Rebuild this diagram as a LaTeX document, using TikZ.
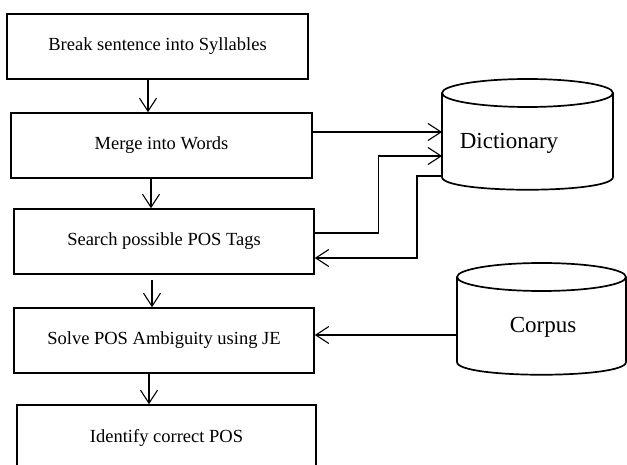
\documentclass[tikz,border=0pt]{standalone}
\usepackage{fontspec}
\setmainfont{Liberation Serif}
\usetikzlibrary{arrows.meta}
\begin{document}
\begin{tikzpicture}[x=1pt,y=-1pt,
  procbox/.style={draw,line width=1.6pt,minimum height=65pt,inner sep=0pt,font=\fontsize{18.5}{20}\selectfont},
  arr/.style={line width=1.1pt,-{Straight Barb[length=13pt,width=17pt,line width=1.1pt]}},
  dbshape/.style={line width=1.7pt},
  dblabel/.style={font=\fontsize{23}{25}\selectfont,inner sep=0pt}]
\clip (0,0) rectangle (627,465);
\fill[white] (0,0) rectangle (627,465);
% process boxes
\node[procbox,minimum width=301pt] (b1) at (157.5,46.5) {Break sentence into Syllables};
\node[procbox,minimum width=301pt] (b2) at (161.5,145.5) {Merge into Words};
\node[procbox,minimum width=300pt] (b3) at (164,241.5) {Search possible POS Tags};
\node[procbox,minimum width=300pt] (b4) at (164,340.5) {Solve POS Ambiguity using JE};
\node[procbox,minimum width=299pt] (b5) at (166.5,437.5) {Identify correct POS};
% Dictionary cylinder
\draw[dbshape] (527.5,93) ellipse [x radius=85.5, y radius=14];
\draw[dbshape] (442,93) -- (442,177) .. controls (442,194) and (613,194) .. (613,177) -- (613,93);
\node[dblabel] (dict) at (509,143) {Dictionary};
\coordinate (d1) at (442,132);
\coordinate (d2) at (442,156);
\coordinate (d3) at (442,176);
% Corpus cylinder
\draw[dbshape] (541.5,277) ellipse [x radius=84.5, y radius=14];
\draw[dbshape] (457,277) -- (457,362) .. controls (457,379) and (626,379) .. (626,362) -- (626,277);
\node[dblabel] (corp) at (543,327) {Corpus};
\coordinate (c1) at (457,335);
% vertical flow
\draw[arr] ([xshift=-9.5pt]b1.south) -- ([xshift=-13.5pt]b2.north);
\draw[arr] ([xshift=-10.5pt]b2.south) -- ([xshift=-13pt]b3.north);
\draw[arr] ([xshift=-12pt,yshift=-5pt]b3.south) -- ([xshift=-12pt]b4.north);
\draw[arr] ([xshift=-15pt]b4.south) -- ([xshift=-17.5pt]b5.north);
% dictionary links
\draw[arr] ([yshift=13.5pt]b2.east) -- (d1);
\draw[arr] ([yshift=8.5pt]b3.east) -- ++(64,0) |- (d2);
\draw[arr] (d3) -- ++(-25,0) |- ([yshift=-16.5pt]b3.east);
% corpus link
\draw[arr] (c1) -- ([yshift=5.5pt]b4.east);
\end{tikzpicture}
\end{document}
